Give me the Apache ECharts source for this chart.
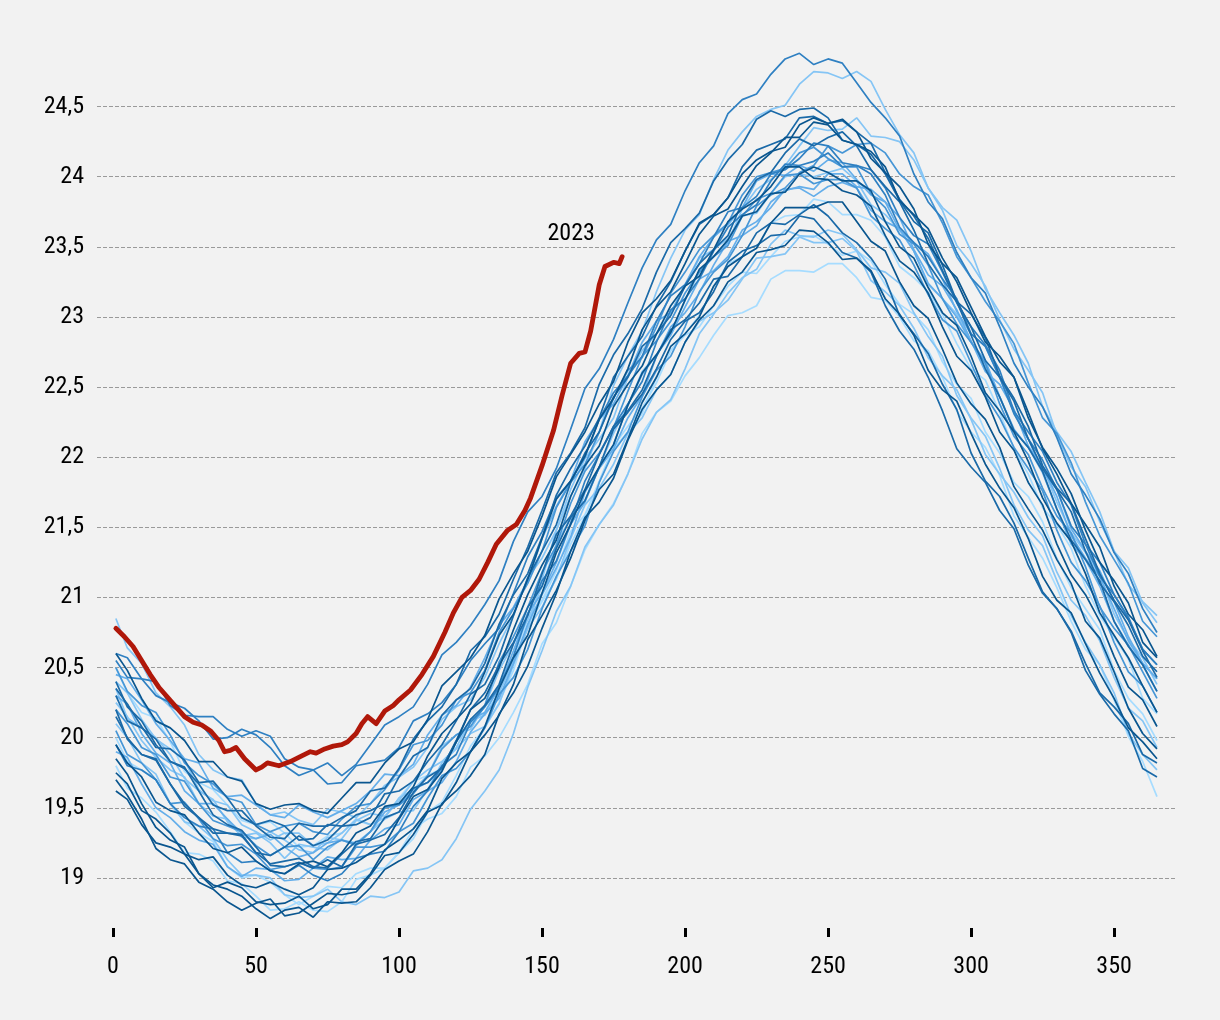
<!DOCTYPE html>
<html>
<head>
<meta charset="utf-8">
<script src="https://cdn.jsdelivr.net/npm/echarts@6/dist/echarts.min.js"></script>
<style>
  html, body { margin: 0; padding: 0; background: #f2f2f2; }
  #chart { width: 1220px; height: 1020px; }
</style>
</head>
<body>
<div id="chart"></div>
<script>
// day of year for the past years (one value every 5 days)
const days = [1, 5, 10, 15, 20, 25, 30, 35, 40, 45, 50, 55, 60, 65, 70, 75, 80, 85, 90, 95, 100,
  105, 110, 115, 120, 125, 130, 135, 140, 145, 150, 155, 160, 165, 170, 175, 180, 185, 190, 195, 200,
  205, 210, 215, 220, 225, 230, 235, 240, 245, 250, 255, 260, 265, 270, 275, 280, 285, 290, 295, 300,
  305, 310, 315, 320, 325, 330, 335, 340, 345, 350, 355, 360, 365];

// past years
const line01 = [20.60,20.57,20.42,20.30,20.25,20.21,20.12,19.99,20.00,20.06,20.02,19.93,19.80,19.73,19.77,19.82,19.73,19.81,19.95,20.09,20.15,20.22,20.38,20.59,20.68,20.80,20.95,21.12,21.40,21.61,21.72,21.92,22.20,22.49,22.63,22.84,23.10,23.35,23.55,23.66,23.90,24.10,24.22,24.45,24.55,24.59,24.73,24.84,24.88,24.80,24.84,24.81,24.67,24.53,24.42,24.29,24.02,23.82,23.70,23.46,23.28,23.17,22.93,22.67,22.50,22.36,22.14,21.88,21.73,21.56,21.32,21.17,20.92,20.75];
const line02 = [20.35,20.14,20.07,20.00,19.88,19.71,19.62,19.56,19.40,19.30,19.32,19.25,19.14,19.24,19.22,19.20,19.28,19.41,19.46,19.44,19.55,19.69,19.77,19.83,19.93,20.12,20.16,20.32,20.55,20.78,21.13,21.48,21.72,21.92,22.18,22.51,22.72,22.90,23.18,23.42,23.62,23.73,23.98,24.19,24.32,24.43,24.48,24.51,24.66,24.75,24.74,24.70,24.75,24.68,24.48,24.30,24.17,23.92,23.76,23.51,23.38,23.22,22.98,22.77,22.62,22.46,22.16,21.93,21.79,21.54,21.33,21.21,20.96,20.82];
const line03 = [19.85,19.74,19.53,19.36,19.27,19.22,19.03,18.95,18.92,18.87,18.78,18.71,18.77,18.79,18.72,18.83,18.82,18.83,18.93,19.06,19.12,19.17,19.33,19.53,19.62,19.73,19.88,20.17,20.32,20.51,20.78,21.03,21.33,21.57,21.68,21.85,22.12,22.34,22.48,22.59,22.82,22.98,23.08,23.25,23.32,23.46,23.48,23.51,23.62,23.61,23.53,23.41,23.42,23.33,23.13,23.02,22.87,22.62,22.48,22.40,22.17,21.95,21.78,21.64,21.42,21.15,20.98,20.89,20.67,20.46,20.28,20.07,19.97,19.85];
const line04 = [20.00,19.83,19.77,19.70,19.53,19.40,19.32,19.26,19.08,19.00,19.02,18.97,18.88,18.81,18.87,18.94,18.93,19.03,19.07,19.07,19.18,19.35,19.42,19.46,19.58,19.79,19.87,20.00,20.18,20.38,20.67,20.82,21.08,21.34,21.52,21.67,21.88,22.17,22.32,22.40,22.58,22.71,22.87,23.01,23.03,23.08,23.27,23.33,23.33,23.32,23.38,23.38,23.28,23.14,23.12,23.00,22.83,22.76,22.57,22.33,22.18,22.07,21.87,21.58,21.43,21.28,21.07,20.83,20.63,20.52,20.27,20.01,19.83,19.58];
const line05 = [20.40,20.22,20.12,19.95,19.83,19.79,19.62,19.45,19.38,19.34,19.22,19.09,19.08,19.11,19.07,19.13,19.08,19.24,19.27,19.31,19.43,19.61,19.72,19.78,19.98,20.20,20.32,20.52,20.68,20.87,21.17,21.45,21.58,21.77,22.02,22.22,22.33,22.48,22.72,22.91,22.98,23.10,23.27,23.29,23.43,23.60,23.67,23.66,23.73,23.80,23.72,23.60,23.53,23.42,23.27,23.01,22.88,22.74,22.52,22.34,22.03,21.83,21.72,21.53,21.28,21.04,20.92,20.75,20.48,20.31,20.17,20.05,19.78,19.72];
const line06 = [20.85,20.64,20.53,20.32,20.22,20.09,19.88,19.77,19.72,19.70,19.53,19.45,19.47,19.41,19.38,19.49,19.47,19.43,19.53,19.66,19.72,19.79,19.93,20.13,20.22,20.27,20.43,20.67,20.87,21.14,21.28,21.48,21.77,21.99,22.13,22.28,22.57,22.76,22.88,23.03,23.22,23.42,23.48,23.56,23.72,23.74,23.88,24.00,24.02,24.00,24.03,24.06,23.97,23.80,23.73,23.62,23.47,23.23,23.13,23.02,22.82,22.66,22.43,22.19,22.07,21.93,21.68,21.46,21.32,21.16,20.88,20.70,20.57,20.38];
const line07 = [20.55,20.43,20.42,20.40,20.23,20.16,20.15,20.15,20.06,20.01,20.05,20.01,19.85,19.79,19.77,19.67,19.68,19.80,19.82,19.84,19.93,20.12,20.17,20.25,20.38,20.55,20.67,20.78,21.03,21.29,21.47,21.71,21.83,22.00,22.27,22.46,22.58,22.72,22.97,23.15,23.23,23.38,23.57,23.75,23.78,23.86,24.02,24.05,24.13,24.24,24.22,24.10,24.08,24.02,23.87,23.64,23.53,23.43,23.27,23.13,22.88,22.79,22.57,22.31,22.13,21.98,21.77,21.51,21.38,21.25,21.02,20.85,20.63,20.52];
const line08 = [19.62,19.56,19.38,19.25,19.22,19.17,19.03,18.93,18.97,18.93,18.83,18.81,18.82,18.87,18.78,18.81,18.92,18.92,19.03,19.20,19.27,19.35,19.48,19.71,19.82,19.90,20.08,20.35,20.57,20.73,21.03,21.32,21.52,21.76,21.93,22.09,22.37,22.60,22.73,22.89,23.12,23.34,23.43,23.55,23.72,23.75,23.88,23.89,24.02,24.07,24.03,23.97,23.97,23.90,23.68,23.50,23.42,23.21,23.03,22.94,22.72,22.46,22.33,22.18,21.97,21.71,21.53,21.40,21.17,20.89,20.73,20.57,20.37,20.18];
const line09 = [20.10,20.00,19.82,19.74,19.53,19.40,19.37,19.28,19.13,19.02,19.02,19.00,18.88,18.86,18.87,18.92,18.83,18.81,18.87,18.86,18.90,19.05,19.07,19.13,19.28,19.49,19.62,19.77,20.03,20.36,20.62,20.90,21.08,21.36,21.52,21.66,21.88,22.13,22.32,22.41,22.63,22.88,23.02,23.17,23.28,23.34,23.52,23.62,23.58,23.57,23.62,23.59,23.48,23.35,23.32,23.24,23.03,22.86,22.72,22.44,22.28,22.15,21.92,21.66,21.48,21.37,21.12,20.87,20.68,20.52,20.32,20.03,19.88,19.77];
const line10 = [20.30,20.12,20.07,19.99,19.83,19.78,19.67,19.52,19.48,19.48,19.37,19.29,19.28,19.39,19.37,19.37,19.43,19.48,19.62,19.64,19.78,19.99,20.12,20.22,20.38,20.62,20.72,20.88,21.13,21.36,21.62,21.89,22.03,22.21,22.52,22.73,22.88,23.06,23.32,23.53,23.63,23.74,23.97,24.12,24.23,24.41,24.47,24.43,24.48,24.49,24.42,24.26,24.23,24.16,24.02,23.83,23.68,23.60,23.37,23.11,22.93,22.69,22.57,22.40,22.13,21.92,21.77,21.61,21.33,21.10,20.97,20.80,20.58,20.47];
const line11 = [20.20,20.10,19.93,19.88,19.72,19.69,19.53,19.41,19.37,19.33,19.23,19.16,19.22,19.23,19.13,19.22,19.27,19.24,19.33,19.50,19.52,19.60,19.73,19.92,20.02,20.08,20.23,20.54,20.72,20.93,21.18,21.37,21.67,21.90,22.03,22.21,22.47,22.72,22.83,22.97,23.17,23.32,23.43,23.51,23.72,23.84,23.88,24.01,24.02,23.95,23.98,23.98,23.92,23.72,23.63,23.55,23.37,23.16,22.98,22.90,22.67,22.44,22.28,22.07,21.92,21.76,21.48,21.25,21.12,20.94,20.68,20.47,20.37,20.18];
const line12 = [20.50,20.32,20.18,20.14,19.97,19.76,19.68,19.63,19.52,19.41,19.38,19.40,19.32,19.22,19.23,19.30,19.32,19.41,19.38,19.43,19.57,19.69,19.73,19.78,19.97,20.11,20.18,20.36,20.57,20.85,20.98,21.19,21.47,21.59,21.83,22.08,22.22,22.35,22.53,22.76,22.87,22.93,23.08,23.22,23.32,23.31,23.43,23.54,23.57,23.58,23.52,23.44,23.47,23.40,23.23,23.09,23.02,22.91,22.68,22.52,22.42,22.18,22.03,21.82,21.72,21.54,21.28,21.07,20.92,20.77,20.48,20.28,20.17,19.98];
const line13 = [19.95,19.82,19.72,19.54,19.48,19.45,19.32,19.21,19.18,19.22,19.12,19.05,19.03,19.10,19.12,19.08,19.18,19.32,19.37,19.51,19.53,19.65,19.87,20.03,20.13,20.24,20.47,20.73,20.88,21.13,21.42,21.70,21.83,22.01,22.27,22.42,22.63,22.91,23.07,23.18,23.38,23.59,23.72,23.77,23.93,24.08,24.17,24.28,24.28,24.39,24.37,24.26,24.23,24.18,24.07,23.83,23.73,23.63,23.42,23.25,23.03,22.82,22.72,22.57,22.28,22.07,21.92,21.74,21.48,21.25,21.12,20.96,20.68,20.57];
const line14 = [20.30,20.24,20.03,19.89,19.82,19.62,19.53,19.53,19.42,19.32,19.28,19.31,19.22,19.15,19.18,19.25,19.27,19.23,19.33,19.47,19.52,19.63,19.68,19.77,19.97,20.13,20.18,20.36,20.62,20.89,21.03,21.25,21.52,21.68,21.93,22.09,22.37,22.59,22.73,22.87,23.07,23.27,23.33,23.43,23.62,23.68,23.78,23.91,23.92,23.86,23.93,23.96,23.92,23.76,23.68,23.63,23.47,23.24,23.13,23.00,22.82,22.69,22.43,22.20,22.07,21.89,21.63,21.38,21.27,21.08,20.83,20.66,20.52,20.33];
const line15 = [20.15,20.00,19.88,19.85,19.67,19.51,19.43,19.35,19.32,19.31,19.18,19.10,19.12,19.14,19.08,19.07,19.17,19.26,19.28,19.43,19.47,19.64,19.68,19.79,19.97,20.13,20.23,20.38,20.67,20.93,21.08,21.35,21.57,21.69,21.93,22.20,22.32,22.45,22.63,22.84,22.97,23.03,23.18,23.39,23.47,23.51,23.58,23.59,23.72,23.70,23.58,23.46,23.42,23.32,23.08,22.90,22.77,22.57,22.33,22.06,21.93,21.82,21.62,21.49,21.23,21.03,20.92,20.76,20.53,20.32,20.22,20.10,19.88,19.82];
const line16 = [20.45,20.42,20.27,20.10,19.98,19.85,19.82,19.64,19.58,19.59,19.52,19.45,19.43,19.52,19.47,19.43,19.48,19.53,19.62,19.74,19.73,19.81,20.02,20.16,20.23,20.36,20.57,20.80,20.93,21.12,21.42,21.65,21.83,22.11,22.27,22.38,22.58,22.82,22.97,23.03,23.23,23.43,23.57,23.66,23.78,23.97,24.02,24.01,24.08,24.04,24.12,24.10,23.98,23.87,23.82,23.71,23.48,23.30,23.22,23.05,22.83,22.61,22.52,22.34,22.08,21.93,21.72,21.44,21.28,21.15,20.92,20.69,20.53,20.42];
const line17 = [19.75,19.67,19.48,19.42,19.32,19.17,19.13,19.15,19.02,18.95,18.93,18.97,18.92,18.88,18.93,19.06,19.07,19.11,19.18,19.24,19.42,19.58,19.63,19.76,19.97,20.20,20.28,20.50,20.77,21.02,21.23,21.41,21.72,21.94,22.08,22.36,22.52,22.65,22.88,23.08,23.22,23.29,23.48,23.68,23.77,23.83,23.93,24.07,24.07,23.99,23.98,23.90,23.87,23.79,23.58,23.40,23.32,23.17,22.93,22.72,22.62,22.43,22.18,22.05,21.82,21.66,21.38,21.16,21.02,20.83,20.58,20.36,20.27,20.08];
const line18 = [20.05,19.88,19.82,19.70,19.53,19.54,19.42,19.28,19.23,19.24,19.17,19.06,19.08,19.11,19.07,19.06,19.08,19.22,19.22,19.24,19.33,19.39,19.57,19.73,19.78,19.90,20.07,20.31,20.43,20.63,20.92,21.15,21.33,21.51,21.82,22.04,22.18,22.43,22.62,22.72,22.93,23.18,23.32,23.41,23.58,23.79,23.87,23.92,24.03,24.08,24.22,24.17,24.23,24.24,24.17,24.02,23.93,23.87,23.67,23.43,23.28,23.11,22.97,22.81,22.53,22.28,22.17,21.96,21.68,21.44,21.27,21.10,20.83,20.72];
const line19 = [20.35,20.24,20.08,19.93,19.92,19.84,19.68,19.69,19.57,19.43,19.38,19.41,19.37,19.27,19.28,19.38,19.37,19.38,19.43,19.60,19.62,19.69,19.83,19.95,20.12,20.31,20.38,20.58,20.87,21.14,21.33,21.52,21.82,22.03,22.18,22.43,22.57,22.79,22.88,23.01,23.22,23.38,23.48,23.58,23.82,23.98,24.03,24.17,24.27,24.22,24.28,24.32,24.22,24.05,23.93,23.82,23.62,23.38,23.23,23.11,22.87,22.63,22.43,22.19,22.07,21.90,21.63,21.41,21.27,21.12,20.83,20.65,20.52,20.33];
const line20 = [19.80,19.64,19.57,19.47,19.33,19.18,19.17,19.12,18.98,18.96,18.87,18.77,18.78,18.83,18.77,18.76,18.83,18.99,19.02,19.07,19.18,19.28,19.47,19.54,19.73,19.94,20.07,20.25,20.48,20.80,20.97,21.13,21.38,21.58,21.82,22.06,22.18,22.31,22.57,22.76,22.88,23.01,23.22,23.38,23.43,23.49,23.67,23.72,23.73,23.84,23.82,23.73,23.73,23.69,23.57,23.36,23.28,23.18,23.02,22.81,22.63,22.55,22.32,22.06,21.88,21.64,21.52,21.35,21.08,20.87,20.72,20.56,20.28,20.17];
const line21 = [20.60,20.48,20.28,20.12,20.07,19.98,19.83,19.83,19.72,19.69,19.53,19.49,19.52,19.53,19.48,19.46,19.57,19.68,19.68,19.82,19.92,19.97,20.13,20.37,20.47,20.57,20.73,20.99,21.17,21.33,21.58,21.86,22.02,22.18,22.38,22.54,22.82,23.03,23.13,23.26,23.47,23.67,23.73,23.85,24.02,24.12,24.18,24.21,24.37,24.42,24.38,24.41,24.32,24.13,24.03,23.93,23.77,23.52,23.38,23.28,23.07,22.86,22.68,22.57,22.32,22.06,21.88,21.67,21.52,21.36,21.08,20.88,20.77,20.58];
const line22 = [19.90,19.86,19.67,19.50,19.43,19.33,19.27,19.24,19.08,19.01,19.07,19.06,18.98,18.99,19.07,19.15,19.13,19.14,19.27,19.35,19.38,19.56,19.62,19.68,19.83,20.04,20.17,20.28,20.53,20.81,21.02,21.21,21.43,21.75,21.92,22.06,22.28,22.44,22.72,22.93,23.03,23.17,23.37,23.54,23.58,23.65,23.82,23.90,23.93,23.91,24.02,24.02,23.93,23.91,23.82,23.62,23.53,23.45,23.27,23.04,22.88,22.79,22.57,22.32,22.13,21.90,21.77,21.49,21.33,21.19,20.97,20.72,20.53,20.42];
const line23 = [20.20,19.99,19.88,19.84,19.67,19.53,19.43,19.32,19.32,19.30,19.18,19.16,19.22,19.30,19.23,19.27,19.37,19.45,19.48,19.53,19.72,19.87,19.93,20.16,20.27,20.35,20.53,20.81,21.02,21.17,21.43,21.73,21.92,22.08,22.28,22.57,22.72,22.86,23.08,23.25,23.47,23.66,23.73,23.85,24.07,24.19,24.23,24.27,24.42,24.43,24.38,24.40,24.32,24.24,24.03,23.84,23.72,23.56,23.33,23.11,23.02,22.85,22.58,22.42,22.22,21.94,21.78,21.67,21.42,21.17,20.98,20.84,20.62,20.43];
const line24 = [20.25,20.15,19.98,19.86,19.77,19.72,19.53,19.44,19.42,19.29,19.28,19.33,19.27,19.20,19.18,19.29,19.27,19.25,19.33,19.42,19.47,19.48,19.63,19.82,19.92,20.03,20.08,20.24,20.52,20.78,20.93,21.14,21.42,21.66,21.78,21.95,22.17,22.28,22.48,22.59,22.82,22.97,23.03,23.12,23.27,23.42,23.43,23.45,23.57,23.53,23.53,23.56,23.47,23.26,23.18,23.08,22.92,22.71,22.58,22.48,22.27,22.02,21.88,21.75,21.57,21.44,21.18,20.98,20.87,20.69,20.43,20.21,20.12,19.93];
const line25 = [19.95,19.80,19.77,19.70,19.53,19.43,19.37,19.35,19.18,19.11,19.12,19.05,19.03,19.09,19.02,18.98,19.03,19.14,19.17,19.19,19.33,19.51,19.62,19.80,19.88,20.11,20.22,20.36,20.58,20.88,21.12,21.26,21.53,21.83,22.02,22.22,22.38,22.54,22.82,23.05,23.13,23.27,23.47,23.64,23.73,23.80,23.97,24.09,24.08,24.11,24.17,24.07,24.08,24.05,23.92,23.71,23.58,23.52,23.32,23.10,22.93,22.80,22.62,22.33,22.18,22.04,21.82,21.66,21.38,21.15,21.02,20.86,20.63,20.52];
const line26 = [20.40,20.32,20.13,19.99,19.92,19.84,19.63,19.55,19.52,19.38,19.33,19.27,19.32,19.32,19.23,19.25,19.32,19.42,19.38,19.43,19.57,19.63,19.73,19.94,20.02,20.06,20.23,20.48,20.67,20.84,21.08,21.38,21.57,21.69,21.93,22.17,22.37,22.61,22.73,22.88,23.12,23.32,23.43,23.53,23.77,23.91,23.98,24.08,24.22,24.35,24.33,24.34,24.42,24.29,24.28,24.25,24.12,23.92,23.78,23.69,23.47,23.20,23.03,22.87,22.67,22.36,22.18,22.04,21.82,21.61,21.33,21.09,20.97,20.87];
const line27 = [19.70,19.59,19.42,19.21,19.13,19.10,18.97,18.92,18.83,18.77,18.82,18.85,18.73,18.75,18.82,18.89,18.88,18.90,19.02,19.16,19.18,19.31,19.47,19.52,19.68,19.90,20.02,20.16,20.38,20.70,20.87,21.05,21.28,21.55,21.77,21.88,22.13,22.39,22.57,22.79,22.88,23.00,23.22,23.36,23.43,23.49,23.67,23.78,23.78,23.78,23.82,23.82,23.68,23.54,23.47,23.25,23.08,22.99,22.77,22.53,22.38,22.27,22.07,21.79,21.63,21.48,21.27,21.10,20.83,20.71,20.47,20.21,20.03,19.92];
const line28 = [20.50,20.33,20.23,20.18,20.02,19.82,19.73,19.67,19.57,19.54,19.38,19.33,19.37,19.39,19.33,19.31,19.42,19.51,19.53,19.63,19.77,19.95,19.98,20.09,20.27,20.32,20.48,20.75,20.92,21.10,21.33,21.64,21.82,21.95,22.18,22.42,22.62,22.71,22.93,23.17,23.32,23.48,23.58,23.67,23.87,24.00,24.03,24.06,24.17,24.21,24.13,24.07,24.07,23.88,23.78,23.59,23.52,23.37,23.13,22.95,22.82,22.67,22.38,22.15,22.02,21.78,21.58,21.46,21.22,20.93,20.78,20.66,20.47,20.28];

const pastLines = [line01, line02, line03, line04, line05, line06, line07, line08, line09, line10,
  line11, line12, line13, line14, line15, line16, line17, line18, line19, line20,
  line21, line22, line23, line24, line25, line26, line27, line28];

// 2023 so far
const redDays = [1, 4, 7, 10, 13, 16, 19, 22, 25, 28, 31, 34, 37, 39, 41, 43, 46, 50, 52, 54, 58, 62, 66, 69,
  71, 74, 77, 80, 82, 85, 87, 89, 92, 95, 98, 100, 104, 108, 112, 116, 119, 122, 125, 128, 131, 134, 138,
  141, 144, 146, 150, 154, 157, 160, 163, 165, 167, 170, 172, 175, 177, 178];
const redTemps = [20.78, 20.72, 20.65, 20.55, 20.45, 20.36, 20.29, 20.22, 20.15, 20.11, 20.09, 20.05, 19.98,
  19.90, 19.91, 19.93, 19.85, 19.77, 19.79, 19.82, 19.80, 19.83, 19.87, 19.90, 19.89, 19.92, 19.94, 19.95,
  19.97, 20.03, 20.10, 20.15, 20.10, 20.19, 20.23, 20.27, 20.34, 20.45, 20.58, 20.75, 20.89, 21.00, 21.05,
  21.13, 21.25, 21.38, 21.48, 21.52, 21.62, 21.71, 21.94, 22.19, 22.44, 22.67, 22.74, 22.75, 22.90, 23.23,
  23.36, 23.39, 23.38, 23.43];

const xTicks = [0, 50, 100, 150, 200, 250, 300, 350];
const yTicks = [19, 19.5, 20, 20.5, 21, 21.5, 22, 22.5, 23, 23.5, 24, 24.5];

// colours
const blues = ['#a6dcff', '#85c5f5', '#64aeea', '#4696d6', '#2f80c2', '#1b6aa8', '#0a568f'];
const shade = [4, 1, 6, 0, 5, 1, 4, 6, 1, 5, 3, 0, 6, 2, 5, 2, 6, 3, 5, 0, 6, 2, 5, 1, 4, 1, 6, 3];
const font = "'Roboto Condensed', 'Liberation Sans Narrow', 'Roboto', sans-serif";

var mychart = echarts.init(document.getElementById('chart'));

let series = [];
for (let i = 0; i < pastLines.length; i++) {
  let pts = [];
  for (let j = 0; j < pastLines[i].length && j < days.length; j++) {
    pts.push([days[j], pastLines[i][j]]);
  }
  series.push({
    type: 'line',
    data: pts,
    showSymbol: false,
    silent: true,
    z: 2 + shade[i] / 10,
    lineStyle: { color: blues[shade[i]], width: 1.7 },
    emphasis: { disabled: true }
  });
}
series.push({
  type: 'line',
  data: redDays.map((d, j) => [d, redTemps[j]]),
  showSymbol: false,
  z: 5,
  lineStyle: { color: '#b0180a', width: 4.8, cap: 'round', join: 'round' },
  endLabel: {
    show: true,
    formatter: '2023',
    color: '#000',
    fontSize: 24,
    fontFamily: font,
    align: 'center',
    verticalAlign: 'middle',
    distance: 0,
    offset: [-51, -23]
  },
  emphasis: { disabled: true }
});

let option = {
  backgroundColor: '#f2f2f2',
  animation: false,
  grid: { left: 97, right: 45, top: 36.5, bottom: 92 },
  xAxis: {
    type: 'value',
    min: -5.6,
    max: 371.3,
    axisLine: { show: false },
    axisTick: { show: true, length: 9, lineStyle: { color: '#000', width: 3 }, customValues: xTicks },
    axisLabel: { customValues: xTicks, margin: 27, fontSize: 24, color: '#000', fontFamily: font },
    splitLine: { show: false }
  },
  yAxis: {
    type: 'value',
    min: 18.643,
    max: 25,
    axisLine: { show: false },
    axisTick: { show: false, customValues: yTicks },
    axisLabel: {
      customValues: yTicks,
      margin: 13,
      fontSize: 24,
      color: '#000',
      fontFamily: font,
      formatter: v => String(v).replace('.', ',')
    },
    splitLine: { show: true, lineStyle: { color: '#9a9a9a', width: 1, type: [4, 2] } }
  },
  series: series
};
mychart.setOption(option);
</script>
</body>
</html>
